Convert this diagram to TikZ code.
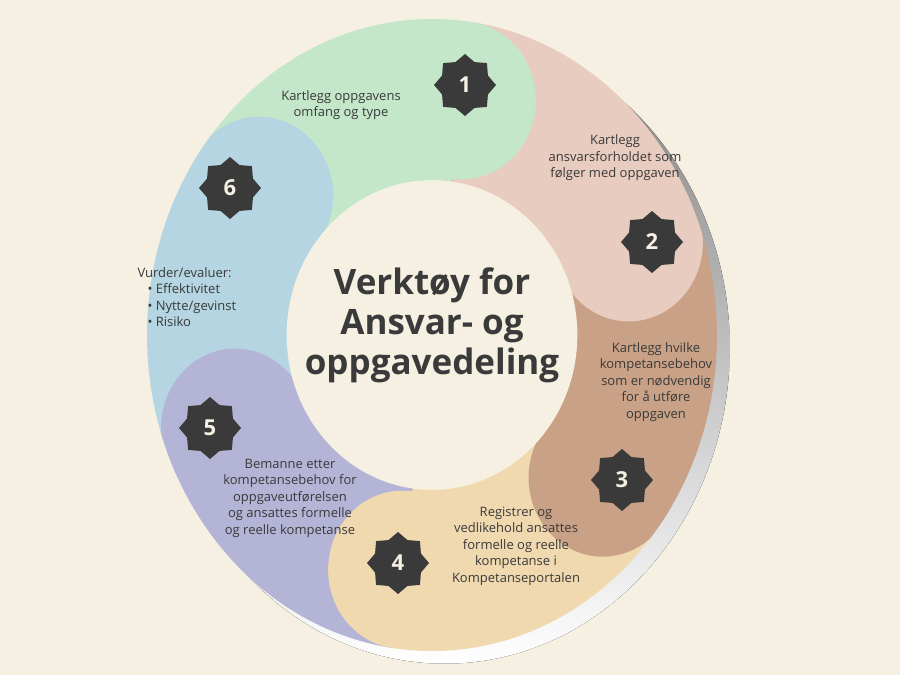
\documentclass[tikz,border=0pt]{standalone}
\usepackage{fontspec}
\setmainfont{Open Sans}
\usetikzlibrary{shapes.geometric}
\definecolor{bg}{HTML}{F6F0E3}
\definecolor{shade}{HTML}{2E2E2E}
\definecolor{segA}{HTML}{C5E7C9}
\definecolor{segB}{HTML}{E8CCBF}
\definecolor{segC}{HTML}{C9A186}
\definecolor{segD}{HTML}{F0D9AF}
\definecolor{segE}{HTML}{B4B4D7}
\definecolor{segF}{HTML}{B4D5E1}
\definecolor{badge}{HTML}{3A3A3A}
\definecolor{txt}{HTML}{3A3A3A}
\tikzset{
  badge/.style={star,star points=8,star point ratio=1.25,fill=badge,
    minimum size=62pt,inner sep=0pt,text=bg,font=\fontsize{22}{22}\selectfont\bfseries},
  steptext/.style={align=center,text=txt,font=\fontsize{13}{16.5}\selectfont},
}
\begin{document}
\begin{tikzpicture}
\fill[bg] (0,0) rectangle (900pt,-675pt);
\useasboundingbox (0,0) rectangle (900pt,-675pt);
\begin{scope}[shift={(432pt,-335pt)},x=285pt,y=316pt]
% shadow
\fill[shade] (0.045,-0.04) ellipse[x radius=1,y radius=1];
\begin{scope}
\clip (0,0) ellipse[x radius=1,y radius=1];
% sectors
\foreach \a/\b/\c in {82/144/segA,23/82/segB,-37/23/segC,-98/-37/segD,-157/-98/segE,144/203/segF}
  \fill[\c] (0,0) -- (\a:1.2) arc[start angle=\a,end angle=\b,radius=1.2] -- cycle;
% rounded ends
\foreach \a/\c in {82/segA,23/segB,-37/segC,-98/segD,-157/segE,144/segF}
  \fill[\c] (\a:0.75) circle[x radius=0.26,y radius=0.25];
\end{scope}
\fill[bg] (0,0) ellipse[x radius=0.51,y radius=0.49];
\end{scope}
% badges
\node[badge] (n1) at (465pt,-85pt) {1};
\node[badge] (n2) at (652pt,-242pt) {2};
\node[badge] (n3) at (622pt,-480pt) {3};
\node[badge] (n4) at (398pt,-563pt) {4};
\node[badge] (n5) at (210pt,-428pt) {5};
\node[badge] (n6) at (230pt,-188pt) {6};
% texts
\node[align=center,text=txt,font=\fontsize{35}{40}\selectfont\bfseries] (title) at (432pt,-325pt)
  {Verktøy for\\Ansvar- og\\oppgavedeling};
\node[steptext] (t1) at (341pt,-105pt) {Kartlegg oppgavens\\omfang og type};
\node[steptext] (t2) at (615pt,-158pt) {Kartlegg\\ansvarsforholdet som\\følger med oppgaven};
\node[steptext] (t3) at (656pt,-382pt) {Kartlegg hvilke\\kompetansebehov\\som er nødvendig\\for å utføre\\oppgaven};
\node[steptext] (t4) at (516pt,-546pt) {Registrer og\\vedlikehold ansattes\\formelle og reelle\\kompetanse i\\Kompetanseportalen};
\node[steptext] (t5) at (290pt,-498pt) {Bemanne etter\\kompetansebehov for\\oppgaveutførelsen\\og ansattes formelle\\og reelle kompetanse};
\node[steptext,align=left,anchor=west] (t6) at (134pt,-297pt)
  {Vurder/evaluer:\\\hspace*{10pt}• Effektivitet\\\hspace*{10pt}• Nytte/gevinst\\\hspace*{10pt}• Risiko};
\end{tikzpicture}
\end{document}
